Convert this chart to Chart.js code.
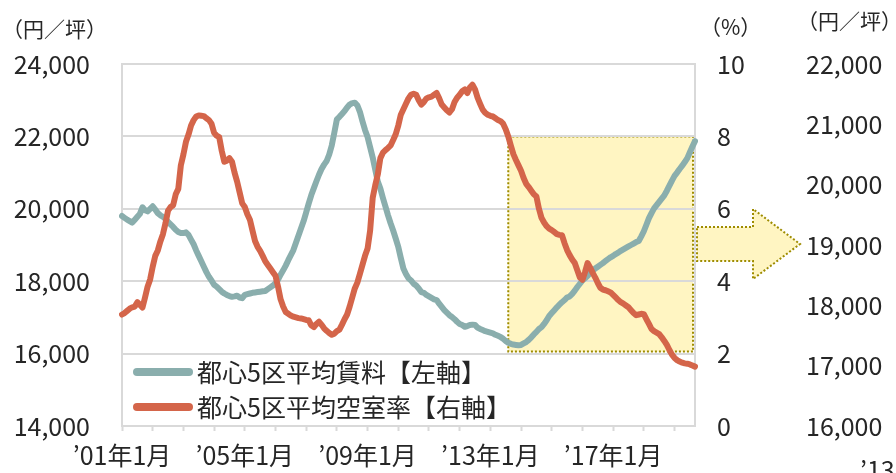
<!DOCTYPE html>
<html>
<head>
<meta charset="utf-8">
<script src="https://cdn.jsdelivr.net/npm/chart.js@4.4.1/dist/chart.umd.min.js"></script>
<style>
  html, body { margin: 0; padding: 0; background: #fff; }
  #wrap { width: 896px; height: 473px; }
</style>
</head>
<body>
<div id="wrap"><canvas id="chart" width="896" height="473"></canvas></div>
<script>
// monthly data, Jan 2001 .. Sep 2019
const startYear = 2001;
const seriesNames = ["都心5区平均賃料【左軸】", "都心5区平均空室率【右軸】"];
const tickLabels = { 0: "’01年1月", 48: "’05年1月", 96: "’09年1月", 144: "’13年1月", 192: "’17年1月" };

// 平均賃料 (円/坪)
const rent = [
  19800, 19750, 19700, 19660, 19620, 19700, 19780, 19860, 20040, 19960, 19930, 20000,
  20070, 19980, 19880, 19820, 19780, 19720, 19640, 19570, 19500, 19420, 19360, 19330,
  19330, 19350, 19280, 19150, 19020, 18850, 18700, 18550, 18400, 18250, 18120, 18020,
  17900, 17850, 17780, 17710, 17660, 17620, 17590, 17570, 17580, 17600, 17550, 17530,
  17620, 17640, 17660, 17680, 17690, 17700, 17710, 17720, 17730, 17780, 17830, 17880,
  17950, 18040, 18180, 18300, 18430, 18580, 18720, 18860, 19060, 19260, 19460, 19660,
  19900, 20150, 20380, 20570, 20760, 20940, 21100, 21220, 21320, 21500, 21750, 22100,
  22470, 22540, 22620, 22700, 22800, 22880, 22920, 22930, 22860, 22680, 22420, 22180,
  21980, 21700, 21420, 21080, 20750, 20560, 20300, 20060, 19820, 19600, 19400, 19180,
  18950, 18640, 18350, 18200, 18080, 18020, 17930, 17880, 17800, 17700, 17680, 17620,
  17580, 17540, 17500, 17480, 17380, 17290, 17200, 17130, 17060, 17010, 16950, 16880,
  16820, 16790, 16740, 16760, 16790, 16800, 16790, 16720, 16680, 16650, 16620, 16600,
  16580, 16560, 16520, 16490, 16460, 16410, 16350, 16300, 16270, 16250, 16240, 16230,
  16240, 16280, 16320, 16380, 16450, 16530, 16600, 16680, 16730, 16820, 16920, 17040,
  17120, 17200, 17280, 17350, 17420, 17480, 17550, 17580, 17650, 17740, 17840, 17930,
  18020, 18080, 18150, 18220, 18290, 18350, 18400, 18450, 18500, 18560, 18610, 18660,
  18700, 18750, 18790, 18840, 18880, 18920, 18960, 19000, 19040, 19080, 19110, 19240,
  19380, 19560, 19740, 19880, 20010, 20100, 20190, 20280, 20370, 20500, 20640, 20780,
  20910, 21000, 21100, 21190, 21290, 21400, 21560, 21720, 21870
];

// 平均空室率 (%)
const vacancy = [
  3.08, 3.12, 3.18, 3.24, 3.28, 3.30, 3.42, 3.35, 3.27, 3.55, 3.85, 4.05,
  4.40, 4.70, 4.85, 5.10, 5.30, 5.60, 5.95, 6.05, 6.10, 6.40, 6.55, 7.20,
  7.50, 7.85, 8.05, 8.30, 8.45, 8.55, 8.58, 8.57, 8.56, 8.50, 8.45, 8.35,
  8.10, 8.02, 7.98, 7.60, 7.30, 7.33, 7.40, 7.30, 7.00, 6.75, 6.45, 6.15,
  6.05, 5.85, 5.70, 5.40, 5.11, 4.95, 4.84, 4.70, 4.55, 4.45, 4.35, 4.25,
  4.15, 3.85, 3.50, 3.30, 3.15, 3.10, 3.05, 3.02, 3.00, 2.98, 2.97, 2.95,
  2.93, 2.92, 2.78, 2.73, 2.82, 2.88, 2.80, 2.70, 2.63, 2.57, 2.52, 2.55,
  2.62, 2.66, 2.80, 2.95, 3.08, 3.30, 3.55, 3.80, 3.96, 4.20, 4.45, 4.70,
  4.90, 5.40, 6.30, 6.65, 6.95, 7.40, 7.55, 7.62, 7.68, 7.75, 7.90, 8.06,
  8.30, 8.60, 8.75, 8.90, 9.05, 9.15, 9.18, 9.15, 9.00, 8.88, 8.95, 9.05,
  9.08, 9.10, 9.15, 9.20, 9.05, 8.88, 8.80, 8.72, 8.66, 8.75, 8.95, 9.07,
  9.15, 9.25, 9.30, 9.20, 9.35, 9.43, 9.30, 9.07, 8.90, 8.74, 8.65, 8.60,
  8.57, 8.55, 8.50, 8.45, 8.42, 8.35, 8.20, 8.00, 7.75, 7.51, 7.35, 7.20,
  7.05, 6.85, 6.69, 6.60, 6.50, 6.40, 6.34, 6.00, 5.75, 5.62, 5.52, 5.45,
  5.41, 5.36, 5.30, 5.28, 5.27, 5.05, 4.86, 4.72, 4.60, 4.50, 4.30, 4.10,
  4.04, 4.25, 4.50, 4.38, 4.23, 4.10, 3.95, 3.82, 3.77, 3.75, 3.72, 3.69,
  3.62, 3.55, 3.48, 3.42, 3.38, 3.33, 3.28, 3.20, 3.12, 3.06, 3.08, 3.10,
  3.09, 2.95, 2.82, 2.68, 2.62, 2.58, 2.54, 2.45, 2.35, 2.24, 2.10, 1.97,
  1.88, 1.82, 1.78, 1.75, 1.73, 1.72, 1.70, 1.67, 1.64
];

// highlighted period (Aug 2013 ..) and rent range of the zoomed chart
const highlightStart = 151;
const highlightRent = [16000, 22000];

const months = rent.map((_, i) => (startYear + Math.floor(i / 12)) + "-" + String(i % 12 + 1).padStart(2, "0"));

const FONT = "'Noto Sans CJK JP', 'Noto Sans', sans-serif";
const TEXT = "#262626";
const GRID = "#d9d9d9";
const TEAL = "#8aaead";
const RED = "#d4654a";
const BOX_FILL = "#fff5c2";
const BOX_LINE = "#9e8c00";

/* yellow box + arrow behind the grid */
const highlightPlugin = {
  id: "highlight",
  beforeDraw(chart) {
    const { ctx, chartArea } = chart;
    const x = chart.scales.x, y = chart.scales.y;
    const x0 = x.getPixelForValue(highlightStart);
    const x1 = x.getPixelForValue(rent.length - 1) - 2;
    const y0 = y.getPixelForValue(highlightRent[1]);
    const y1 = y.getPixelForValue(highlightRent[0]) - 2;
    const ym = (y0 + y1) / 2;

    ctx.save();
    ctx.fillStyle = BOX_FILL;
    ctx.fillRect(x0, y0, x1 - x0, y1 - y0);
    ctx.strokeStyle = BOX_LINE;
    ctx.lineWidth = 2;
    ctx.setLineDash([2, 2]);
    ctx.strokeRect(x0, y0, x1 - x0, y1 - y0);

    // arrow to the right
    const ax = chartArea.right + 2;
    ctx.beginPath();
    ctx.moveTo(ax, ym - 17);
    ctx.lineTo(ax + 56, ym - 17);
    ctx.lineTo(ax + 56, ym - 35);
    ctx.lineTo(ax + 103, ym);
    ctx.lineTo(ax + 56, ym + 35);
    ctx.lineTo(ax + 56, ym + 17);
    ctx.lineTo(ax, ym + 17);
    ctx.closePath();
    ctx.fill();
    ctx.stroke();
    ctx.restore();
  }
};

/* legend inside the plot, unit labels, cut-off label of the next chart */
const textPlugin = {
  id: "texts",
  afterDraw(chart) {
    const { ctx } = chart;
    ctx.save();
    ctx.fillStyle = TEXT;
    ctx.textBaseline = "middle";
    ctx.textAlign = "left";

    ctx.font = "21px " + FONT;
    ctx.fillText("（円／坪）", 2, 29);
    ctx.fillText("（%）", 700, 27);
    ctx.fillText("（円／坪）", 797, 21);

    ctx.font = "25px " + FONT;
    ctx.fillText("’13年1月", 860, 470);

    chart.data.datasets.forEach((ds, i) => {
      const ly = 372 + i * 35;
      ctx.strokeStyle = ds.borderColor;
      ctx.lineWidth = 8;
      ctx.lineCap = "round";
      ctx.beginPath();
      ctx.moveTo(137, ly);
      ctx.lineTo(189, ly);
      ctx.stroke();
      ctx.fillStyle = TEXT;
      ctx.font = "25px " + FONT;
      ctx.fillText(ds.label, 197, ly);
    });
    ctx.restore();
  }
};

const tickFont = { family: FONT, size: 25 };

new Chart(document.getElementById("chart"), {
  type: "line",
  data: {
    labels: months,
    datasets: [
      {
        label: seriesNames[0],
        data: rent,
        yAxisID: "y",
        borderColor: TEAL,
        borderWidth: 6,
        pointRadius: 0,
        borderJoinStyle: "round",
        borderCapStyle: "round",
        tension: 0,
        order: 2
      },
      {
        label: seriesNames[1],
        data: vacancy,
        yAxisID: "y1",
        borderColor: RED,
        borderWidth: 6,
        pointRadius: 0,
        borderJoinStyle: "round",
        borderCapStyle: "round",
        tension: 0,
        order: 1
      }
    ]
  },
  options: {
    responsive: false,
    animation: false,
    devicePixelRatio: 1,
    layout: { padding: { top: 64, bottom: 0, left: 0, right: 0 } },
    plugins: { legend: { display: false }, tooltip: { enabled: false } },
    scales: {
      x: {
        type: "category",
        offset: false,
        grid: {
          drawOnChartArea: false,
          tickLength: 5,
          tickWidth: 2,
          tickColor: c => (c.index % 12 === 0 ? GRID : "transparent")
        },
        border: { color: GRID, width: 2 },
        ticks: {
          autoSkip: false,
          maxRotation: 0,
          minRotation: 0,
          padding: 9,
          color: TEXT,
          font: tickFont,
          callback: (v, i) => tickLabels[i] || ""
        },
        afterFit: s => { s.height = 43; }
      },
      y: {
        position: "left",
        min: 14000,
        max: 24000,
        ticks: {
          stepSize: 2000,
          padding: 32,
          color: TEXT,
          font: tickFont,
          callback: v => v.toLocaleString("en-US")
        },
        grid: { color: GRID, lineWidth: 2, drawTicks: false },
        border: { color: GRID, width: 2 },
        afterFit: s => { s.width = 122; }
      },
      y1: {
        position: "right",
        min: 0,
        max: 10,
        ticks: { stepSize: 2, padding: 22, color: TEXT, font: tickFont },
        grid: { drawOnChartArea: false, drawTicks: false },
        border: { color: GRID, width: 2 },
        afterFit: s => { s.width = 105; }
      },
      y3: {
        position: "right",
        min: 16000,
        max: 22000,
        ticks: {
          stepSize: 1000,
          padding: 6,
          color: TEXT,
          font: tickFont,
          callback: v => v.toLocaleString("en-US")
        },
        grid: { display: false, drawTicks: false },
        border: { display: false },
        afterFit: s => { s.width = 96; }
      }
    }
  },
  plugins: [highlightPlugin, textPlugin]
});
</script>
</body>
</html>
